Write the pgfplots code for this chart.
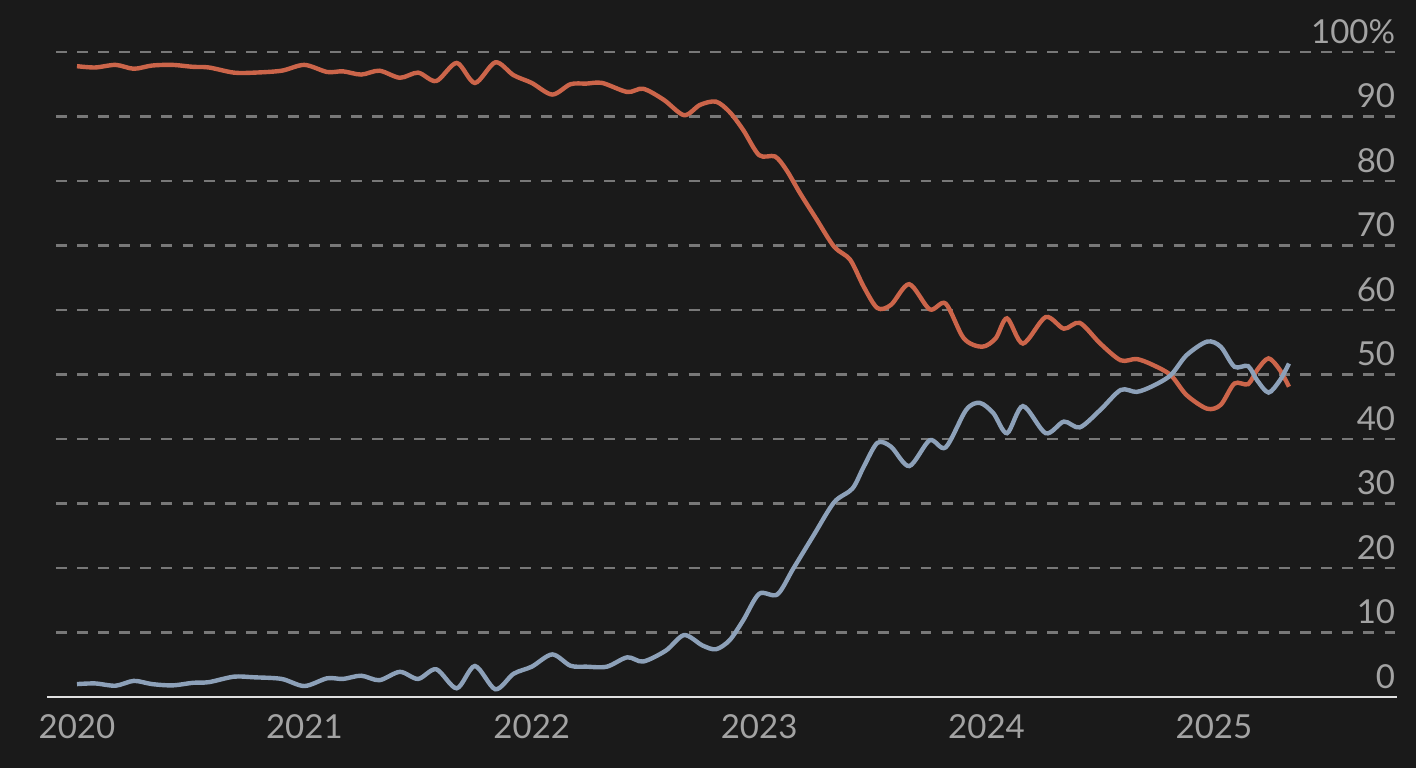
\documentclass[border=0pt]{standalone}
\usepackage{pgfplots}
\pgfplotsset{compat=1.18}
\usepackage{fontspec}
\setmainfont{Lato}
\definecolor{bg}{HTML}{1A1A1A}
\definecolor{redl}{HTML}{CC654A}
\definecolor{bluel}{HTML}{8DA1B9}
\definecolor{lab}{HTML}{A3A3A3}
\definecolor{gridc}{HTML}{787878}
\begin{document}
\begin{tikzpicture}[x=1cm,y=1cm]
\fill[bg] (0,0) rectangle (14.16,7.68);
\useasboundingbox (0,0) rectangle (14.16,7.68);
\begin{axis}[
  at={(0.56cm,0.71cm)}, anchor=south west,
  scale only axis, width=13.41cm, height=6.45cm,
  xmin=2019.9077, xmax=2025.805, ymin=0, ymax=100,
  axis line style={draw=none},
  major tick length=0pt,
  xtick={2020,2021,2022,2023,2024,2025},
  xticklabels={2020,2021,2022,2023,2024,2025},
  ytick={0,10,20,30,40,50,60,70,80,90,100},
  yticklabels={0,10,20,30,40,50,60,70,80,90,100\%},
  yticklabel pos=right,
  ymajorgrids,
  grid style={gridc, line width=0.7pt, dash pattern=on 3.1pt off 2.9pt},
  tick label style={font=\fontsize{9.4}{10}\selectfont, text=lab},
  yticklabel style={anchor=south east, xshift=3pt, yshift=-1.1pt},
  xticklabel style={anchor=north, yshift=-1.6pt},
  clip=false,
]
\draw[white!88!black, line width=0.6pt] (axis cs:2019.87,0) -- (axis cs:2025.805,0);
\addplot[redl, line width=1.25pt, smooth, tension=0.5] coordinates {
(2020.00,97.8)(2020.08,97.6)(2020.17,98.0)(2020.25,97.4)(2020.33,97.9)(2020.42,98.0)
(2020.51,97.7)(2020.58,97.6)(2020.69,96.8)(2020.78,96.8)(2020.90,97.1)(2021.00,98.0)
(2021.10,96.9)(2021.17,97.0)(2021.25,96.5)(2021.33,97.1)(2021.42,96.0)(2021.50,96.8)
(2021.58,95.5)(2021.67,98.3)(2021.75,95.2)(2021.84,98.4)(2021.92,96.4)(2022.00,95.2)
(2022.09,93.4)(2022.17,95.0)(2022.24,95.1)(2022.31,95.2)(2022.42,93.8)(2022.49,94.3)
(2022.58,92.6)(2022.67,90.2)(2022.74,91.8)(2022.81,92.3)(2022.87,90.7)(2022.93,87.9)
(2023.00,84.0)(2023.07,83.8)(2023.12,81.7)(2023.18,78.1)(2023.25,74.2)(2023.33,69.8)
(2023.40,67.8)(2023.46,63.6)(2023.52,60.3)(2023.58,60.8)(2023.66,64.0)(2023.75,60.1)
(2023.82,61.0)(2023.90,55.6)(2023.98,54.3)(2024.04,55.6)(2024.09,58.7)(2024.16,54.8)
(2024.26,58.9)(2024.34,57.1)(2024.41,58.0)(2024.50,54.8)(2024.59,52.2)(2024.66,52.4)
(2024.73,51.5)(2024.81,49.9)(2024.88,46.8)(2024.97,44.7)(2025.03,45.3)(2025.09,48.6)
(2025.15,48.5)(2025.19,50.7)(2025.24,52.5)(2025.29,50.7)(2025.33,48.1)
};
\addplot[bluel, line width=1.25pt, smooth, tension=0.5] coordinates {
(2020.00,2.0)(2020.08,2.1)(2020.17,1.75)(2020.25,2.5)(2020.33,2.0)(2020.42,1.8)
(2020.51,2.2)(2020.58,2.3)(2020.69,3.15)(2020.78,3.05)(2020.90,2.8)(2021.00,1.7)
(2021.10,2.9)(2021.17,2.8)(2021.25,3.3)(2021.33,2.6)(2021.42,3.9)(2021.50,2.8)
(2021.58,4.3)(2021.67,1.35)(2021.75,4.8)(2021.84,1.2)(2021.92,3.6)(2022.00,4.7)
(2022.09,6.6)(2022.17,4.85)(2022.24,4.7)(2022.33,4.7)(2022.42,6.15)(2022.49,5.5)
(2022.59,7.2)(2022.67,9.6)(2022.75,8.0)(2022.81,7.4)(2022.87,8.8)(2022.93,11.9)
(2023.00,16.0)(2023.08,15.9)(2023.15,19.9)(2023.24,25.1)(2023.33,30.2)(2023.41,32.3)
(2023.46,35.7)(2023.52,39.4)(2023.58,38.8)(2023.66,35.8)(2023.75,39.8)(2023.82,38.7)
(2023.91,44.5)(2023.97,45.6)(2024.03,44.0)(2024.09,40.9)(2024.16,45.1)(2024.26,40.9)
(2024.34,42.7)(2024.41,41.8)(2024.50,44.5)(2024.59,47.6)(2024.66,47.3)(2024.73,48.2)
(2024.81,49.9)(2024.88,53.0)(2024.97,55.1)(2025.03,54.3)(2025.09,51.2)(2025.15,51.3)
(2025.19,49.1)(2025.24,47.2)(2025.29,49.1)(2025.33,51.7)
};
\end{axis}
\end{tikzpicture}
\end{document}
